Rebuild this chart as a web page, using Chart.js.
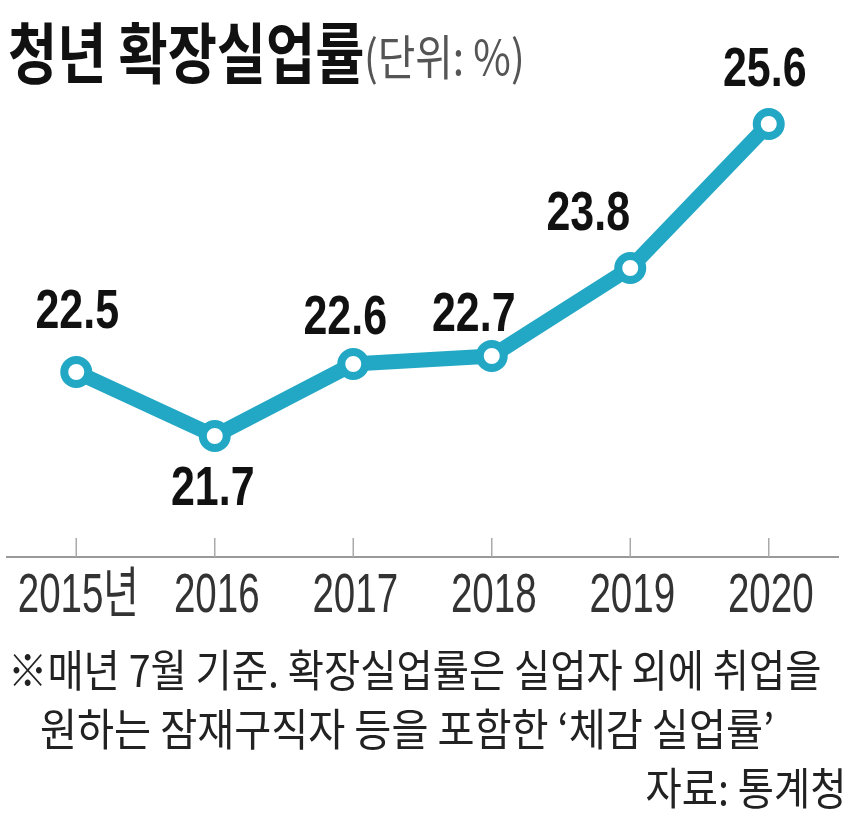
<!DOCTYPE html>
<html>
<head>
<meta charset="utf-8">
<script src="https://cdn.jsdelivr.net/npm/chart.js@4"></script>
<style>
  html, body { margin: 0; padding: 0; background: #fff; }
  #wrap { position: relative; width: 850px; height: 830px; overflow: hidden; }
  #wrap canvas { position: absolute; left: 0; top: 0; }
  .txt { position: absolute; white-space: nowrap; line-height: 1; transform-origin: left center; font-family: "Noto Sans CJK KR", sans-serif; }
  #title { left: 8px; top: 16px; font-size: 66px; font-weight: 700; color: #111; transform: scaleX(0.81); }
  #unit { left: 364px; top: 30px; font-size: 48px; font-weight: 400; color: #555; transform: scaleX(0.85); }
  .note { font-size: 44px; color: #222; transform: scaleX(0.895); }
  #note1 { left: 8px; top: 646px; }
  #note2 { left: 40px; top: 705px; transform: scaleX(0.915); }
  #source { right: 4px; top: 764px; transform-origin: right center; }
</style>
</head>
<body>
<div id="wrap">
  <canvas id="unempChart" width="850" height="830"></canvas>
  <div class="txt" id="title">청년 확장실업률</div>
  <div class="txt" id="unit">(단위: %)</div>
  <div class="txt note" id="note1">※매년 7월 기준. 확장실업률은 실업자 외에 취업을</div>
  <div class="txt note" id="note2">원하는 잠재구직자 등을 포함한 ‘체감 실업률’</div>
  <div class="txt note" id="source">자료: 통계청</div>
</div>
<script>
// data
const years = ['2015년', '2016', '2017', '2018', '2019', '2020'];
const rates = [22.5, 21.7, 22.6, 22.7, 23.8, 25.6];

const teal = '#22a8c4';
const numFont = '"Liberation Sans", "Noto Sans CJK KR", sans-serif';

// where each value label sits relative to its point
const labelShift = [[1, -59], [-2, 54], [-8, -45], [-18, -40], [-42, -53], [-4, -53]];

// value labels over the points (squeezed to look like a condensed face)
const valueLabels = {
    id: 'valueLabels',
    afterDatasetsDraw(chart) {
        const ctx = chart.ctx;
        const meta = chart.getDatasetMeta(0);
        ctx.save();
        ctx.font = 'bold 55px ' + numFont;
        ctx.fillStyle = '#111';
        ctx.textAlign = 'center';
        ctx.textBaseline = 'middle';
        meta.data.forEach((pt, i) => {
            ctx.save();
            ctx.translate(pt.x + labelShift[i][0], pt.y + labelShift[i][1]);
            ctx.scale(0.78, 1);
            ctx.fillText(rates[i].toFixed(1), 0, 0);
            ctx.restore();
        });
        ctx.restore();
    }
};

// short tick marks standing up from the axis line, and the year labels under it
const yearAxis = {
    id: 'yearAxis',
    beforeDatasetsDraw(chart) {
        const ctx = chart.ctx;
        const x = chart.scales.x;
        const bottom = chart.chartArea.bottom;
        ctx.save();
        ctx.strokeStyle = '#aaa';
        ctx.lineWidth = 1.5;
        years.forEach((y, i) => {
            const px = x.getPixelForValue(i);
            ctx.beginPath();
            ctx.moveTo(px, bottom - 19);
            ctx.lineTo(px, bottom);
            ctx.stroke();
        });
        ctx.font = '55px ' + numFont;
        ctx.fillStyle = '#333';
        ctx.textAlign = 'center';
        ctx.textBaseline = 'middle';
        years.forEach((y, i) => {
            ctx.save();
            ctx.translate(x.getPixelForValue(i) + 2, bottom + 40);
            ctx.scale(0.7, 1);
            ctx.fillText(y, 0, 0);
            ctx.restore();
        });
        ctx.restore();
    }
};

new Chart(document.getElementById('unempChart'), {
    type: 'line',
    data: {
        labels: years,
        datasets: [{
            data: rates,
            borderColor: teal,
            borderWidth: 15,
            tension: 0,
            pointRadius: 12,
            pointHoverRadius: 12,
            pointBorderWidth: 8,
            pointBackgroundColor: '#fff',
            pointBorderColor: teal
        }]
    },
    options: {
        responsive: false,
        animation: false,
        layout: { autoPadding: false, padding: { top: 100, left: 7, right: 12, bottom: 273 } },
        plugins: {
            legend: { display: false },
            tooltip: { enabled: false }
        },
        scales: {
            x: {
                offset: true,
                grid: { display: false, drawTicks: false },
                border: { display: true, color: '#999', width: 2 },
                ticks: { display: false }
            },
            y: {
                display: false,
                min: 20.1875,
                max: 25.9
            }
        }
    },
    plugins: [yearAxis, valueLabels]
});
</script>
</body>
</html>
